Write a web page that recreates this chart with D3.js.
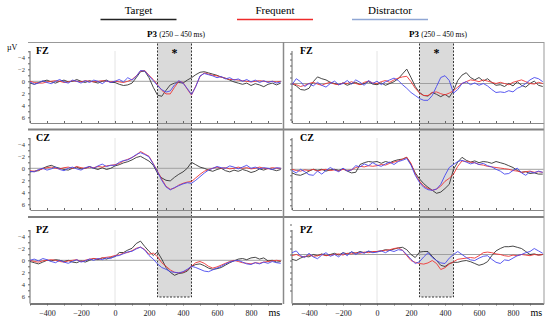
<!DOCTYPE html>
<html>
<head>
<meta charset="utf-8">
<script src="https://cdn.jsdelivr.net/npm/d3@7"></script>
<style>
  body { margin: 0; background: #fff; }
  svg { display: block; }
  text { font-family: "Liberation Serif", "DejaVu Serif", serif; }
</style>
</head>
<body>
<div id="chart"></div>
<script>
// sampling grid (ms)
const times = [-500,-475,-450,-425,-400,-375,-350,-325,-300,-275,-250,-225,-200,-175,-150,-125,-100,-75,-50,-25,
  0,25,50,75,100,125,150,175,200,225,250,275,300,325,350,375,400,425,450,475,
  500,525,550,575,600,625,650,675,700,725,750,775,800,825,850,875,900,925,950,975];

const seriesNames = ['Target', 'Frequent', 'Distractor'];
const rowNames = ['FZ', 'CZ', 'PZ'];
const xTickLabels = [-400, -200, 0, 200, 400, 600, 800];
const yTickLabels = [-4, -2, 0, 2, 4, 6];
const windowMs = [250, 450];

// left column (µV)
const fzLeftTarget = [0.3,0.5,0.2,0.0,-0.2,0.1,0.3,0.0,-0.2,0.1, 0.0,-0.3,0.0,0.2,-0.1,0.1,0.3,0.0,-0.2,0.2,
  0.2,0.5,0.7,0.6,0.3,-0.6,-1.6,-1.7,-0.6,1.0, 2.3,2.5,1.5,0.6,0.3,0.2,0.3,-0.2,-0.6,-1.1,
  -1.5,-1.6,-1.4,-1.2,-1.0,-0.7,-0.5,-0.2,0.1,0.3, 0.5,0.3,0.7,0.4,0.6,0.9,0.5,0.3,0.6,0.3];
const fzLeftFrequent = [0.0,0.2,0.3,0.3,0.1,0.0,-0.1,0.0,0.2,0.1, -0.1,0.0,0.1,-0.1,0.0,0.1,0.0,-0.1,0.0,0.1,
  0.0,0.1,0.2,0.0,-0.3,-0.9,-1.7,-1.8,-1.0,-0.3, 0.6,1.5,2.1,2.1,1.0,0.0,0.2,1.3,2.3,0.8,
  -0.8,-1.4,-1.2,-1.0,-0.9,-0.7,-0.5,-0.3,-0.3,-0.2, -0.1,0.0,0.1,0.0,-0.1,0.0,0.1,0.0,0.1,0.0];
const fzLeftDistractor = [0.1,0.5,0.3,-0.1,0.2,0.4,0.0,-0.3,0.1,0.3, -0.2,0.0,0.3,-0.1,0.2,-0.2,0.0,0.4,-0.1,0.2,
  0.0,-0.3,0.1,-0.6,-0.2,-0.8,-1.8,-1.7,-0.9,-0.1, 0.7,1.4,1.8,1.6,0.6,-0.1,0.3,1.2,2.2,0.9,
  -0.9,-1.3,-1.1,-0.9,-0.6,-0.8,-0.4,-0.6,-0.2,-0.4, 0.0,-0.3,0.1,-0.2,0.2,-0.1,0.2,0.0,0.3,0.1];

const czLeftTarget = [0.6,0.5,0.4,0.0,-0.3,-0.5,-0.2,0.0,0.2,0.3, 0.0,-0.2,0.1,0.0,-0.3,0.0,0.2,-0.1,0.2,0.0,
  -0.4,-0.6,-0.9,-1.1,-1.4,-1.8,-2.0,-1.6,-1.2,-0.5, 0.8,1.6,2.0,2.1,1.5,1.0,0.6,0.0,-1.0,-0.6,
  -0.2,0.0,0.3,0.5,0.2,0.0,0.4,0.6,0.3,0.5, 0.2,0.4,0.7,0.5,0.1,0.3,0.0,0.2,0.4,0.2];
const czLeftFrequent = [0.4,0.5,0.3,0.1,-0.1,-0.2,0.0,0.1,-0.1,-0.2, 0.0,-0.3,-0.1,0.0,-0.2,-0.1,-0.3,-0.2,-0.4,-0.5,
  -0.6,-0.8,-1.2,-1.5,-1.8,-2.2,-2.8,-2.4,-2.0,-0.8, 0.5,1.8,3.0,3.5,3.3,2.8,2.5,2.3,2.2,1.6,
  1.0,0.5,0.2,0.0,-0.2,0.0,-0.1,0.1,0.0,-0.2, 0.0,-0.1,0.1,0.0,-0.2,0.0,0.1,-0.1,0.0,0.0];
const czLeftDistractor = [0.5,0.6,0.2,0.0,0.3,0.1,-0.2,0.2,0.4,0.0, -0.2,0.1,0.3,-0.1,-0.3,0.0,-0.4,-0.7,-0.3,-0.5,
  -0.5,-1.0,-1.3,-1.4,-1.8,-2.3,-2.6,-2.3,-1.9,-0.7, 0.6,2.0,3.1,3.6,3.2,2.9,2.6,2.4,2.5,2.0,
  1.4,0.8,0.3,0.0,-0.3,-0.1,0.0,-0.4,-0.2,0.1, -0.2,-0.5,0.0,-0.2,0.1,-0.1,0.0,0.2,-0.1,0.0];

const pzLeftTarget = [0.2,0.4,0.6,0.3,0.0,0.1,-0.1,0.0,0.2,0.0, 0.3,0.4,0.1,0.3,0.0,-0.3,-0.1,-0.4,-0.2,-0.5,
  -0.6,-1.3,-1.3,-1.7,-2.0,-2.8,-3.2,-2.3,-1.5,-0.8, -1.4,-0.2,1.2,2.0,2.5,2.2,2.1,1.8,1.0,0.7,
  0.6,0.9,1.3,1.5,1.4,1.2,0.8,0.4,0.1,-0.2, -0.3,-0.1,-0.4,-0.5,-0.2,-0.4,0.1,0.0,0.3,0.2];
const pzLeftFrequent = [0.0,0.2,0.3,0.1,0.0,-0.1,0.0,0.2,0.3,0.1, 0.0,-0.1,0.2,0.0,-0.2,-0.3,-0.2,-0.4,-0.5,-0.6,
  -0.8,-0.9,-1.2,-1.3,-1.6,-2.0,-2.2,-1.8,-1.0,-1.2, -0.6,0.4,1.0,1.6,2.0,2.1,2.0,1.6,1.0,0.4,
  0.2,0.5,1.0,1.3,1.1,0.8,0.5,0.2,0.0,0.2, 0.4,0.5,0.6,0.4,0.5,0.3,0.2,0.1,0.0,0.1];
const pzLeftDistractor = [0.0,-0.2,0.1,-0.3,-0.1,0.2,0.4,0.0,0.3,0.5, 0.2,-0.1,0.3,0.1,-0.2,0.0,-0.3,-0.1,-0.4,-0.3,
  -0.7,-0.8,-1.1,-1.4,-1.5,-1.9,-2.2,-1.7,-0.8,-0.2, 0.6,1.2,1.5,1.9,2.0,2.1,1.9,1.5,1.0,1.2,
  1.5,1.8,1.9,1.6,1.3,1.0,0.6,0.3,0.1,0.0, 0.3,0.6,0.7,0.4,0.6,0.3,0.5,0.2,0.4,0.5];

// right column (µV)
const fzRightTarget = [0.0,0.4,1.0,1.1,0.8,-0.3,-1.1,-0.8,-0.6,-0.2, 0.0,0.2,-0.1,0.3,0.0,-0.2,0.2,0.0,-0.3,0.1,
  0.2,-0.1,0.3,0.0,-0.3,-0.8,-1.6,-2.4,-1.0,0.5, 1.5,2.0,2.1,1.5,1.8,2.2,1.8,2.3,1.2,-0.5,
  -1.4,-1.8,-1.0,-0.6,-1.0,-0.4,-0.8,-0.2,0.3,0.2, 0.5,0.0,0.4,-0.3,0.3,0.6,0.0,-0.4,0.3,0.5];
const fzRightFrequent = [0.0,0.2,0.5,0.3,0.0,-0.2,0.1,0.3,0.0,-0.2, 0.1,0.2,-0.1,0.0,-0.3,0.0,0.2,-0.2,-0.4,-0.1,
  0.0,-0.3,-0.5,-0.2,-0.6,-0.9,-1.1,-1.2,-0.3,0.8, 1.6,2.0,2.0,1.5,1.4,1.7,1.9,1.6,1.2,0.6,
  0.0,-0.3,-0.6,-0.5,-0.3,-0.6,-0.4,-0.2,0.0,-0.2, 0.0,0.2,-0.2,-0.4,-0.6,-0.3,0.0,0.1,-0.2,0.0];
const fzRightDistractor = [0.2,-0.8,-0.3,0.5,0.0,0.4,-0.2,0.3,0.6,0.0, -0.4,0.2,0.0,-0.5,0.1,-0.6,-0.2,0.3,-0.5,0.0,
  -0.4,0.2,-0.3,-0.6,-0.9,-0.5,0.2,0.8,1.5,2.0, 2.5,2.8,2.8,2.0,0.5,-1.0,-1.3,-0.5,1.6,1.0,
  0.0,-0.3,0.2,-0.1,0.3,0.0,0.4,1.0,1.5,1.4, 1.5,1.2,1.4,0.8,0.5,0.0,-0.6,-1.0,-0.8,-0.3];

const czRightTarget = [0.6,0.9,1.0,0.7,0.3,0.0,0.2,0.0,0.3,0.1, 0.0,0.2,-0.1,0.3,0.6,0.5,-0.8,-1.1,-1.3,-1.2,
  -1.3,-1.0,-1.3,-1.1,-1.4,-1.6,-1.7,-2.0,-0.8,0.6, 1.6,2.4,3.0,3.5,4.0,3.8,3.2,2.5,0.0,-1.2,
  -2.0,-1.5,-1.2,-1.4,-1.1,-1.3,-1.2,-1.0,-1.3,-1.1, -0.9,-0.6,-0.3,0.2,0.5,0.4,0.7,0.6,0.8,0.8];
const czRightFrequent = [0.0,0.2,0.3,0.1,0.2,0.0,0.3,0.1,0.0,0.2, 0.1,0.3,0.0,0.2,0.1,-0.3,-0.5,-0.4,-0.6,-0.5,
  -0.6,-0.8,-0.7,-1.0,-1.2,-1.4,-1.7,-2.0,-1.0,0.8, 2.0,2.8,3.2,3.5,3.3,2.8,2.0,1.5,0.8,-0.5,
  -1.4,-1.3,-1.2,-1.1,-0.8,-0.7,-0.5,-0.4,-0.3,-0.2, -0.1,0.0,0.2,0.3,0.5,0.4,0.3,0.5,0.4,0.5];
const czRightDistractor = [0.2,0.6,0.0,0.4,0.9,1.0,0.3,0.8,0.2,-0.3, 0.1,0.4,-0.2,0.3,0.1,-0.6,-0.4,-0.9,-0.6,-1.1,
  -0.7,-0.5,-0.9,-1.2,-0.8,-1.3,-1.5,-1.8,-0.7,1.0, 2.2,3.0,3.4,3.5,3.3,2.5,1.0,-0.3,-0.8,-1.3,
  -1.5,-1.2,-0.9,-1.1,-0.8,-1.0,-0.6,-0.4,0.0,0.3, 0.8,0.7,0.2,-0.2,0.6,1.0,0.4,0.6,0.3,0.5];

const pzRightTarget = [0.8,1.0,0.6,0.3,0.4,0.0,0.2,-0.1,0.2,0.0, -0.2,0.1,-0.3,-0.1,-0.4,-0.2,-0.5,-0.3,-0.5,-0.4,
  -0.5,-0.6,-0.8,-0.7,-0.9,-1.1,-1.2,-0.8,0.0,0.5, -0.4,-0.5,-0.5,0.3,1.0,1.8,2.0,1.5,1.3,1.3,
  1.1,1.0,1.2,1.5,1.8,1.6,1.2,0.2,-0.6,-1.0, -1.3,-1.3,-1.4,-1.2,-1.0,-0.5,0.0,-0.1,0.1,0.0];
const pzRightFrequent = [0.2,0.0,0.3,0.4,0.1,0.3,0.2,0.0,0.2,0.1, 0.0,-0.1,0.1,-0.2,-0.1,-0.3,-0.2,-0.4,-0.3,-0.5,
  -0.5,-0.6,-0.7,-0.8,-1.0,-1.1,-0.7,0.2,1.0,1.3, 1.5,1.6,1.4,1.0,1.5,2.5,2.2,1.6,1.2,0.8,
  0.7,0.6,0.5,0.6,0.2,-0.3,-0.4,-0.3,-0.1,0.0, 0.2,0.3,0.1,0.2,0.0,0.1,0.2,0.0,0.1,0.0];
const pzRightDistractor = [-0.3,-0.6,0.2,0.5,-0.2,0.4,0.7,0.1,-0.3,0.3, 0.0,0.4,-0.3,0.2,-0.5,0.0,-0.4,-0.2,-0.6,-0.3,
  -0.4,-0.6,-0.3,-0.7,-0.5,-0.8,-0.7,0.0,0.8,1.5, 1.2,0.4,-0.3,0.5,1.0,1.4,1.5,0.6,0.0,-0.5,
  0.0,0.5,0.9,1.0,0.6,0.3,0.2,0.8,1.3,1.5, 0.9,1.0,0.6,0.2,0.0,-0.3,-0.5,-1.0,-0.6,-0.2];

const panelData = [
  [[fzLeftTarget, fzLeftFrequent, fzLeftDistractor], [fzRightTarget, fzRightFrequent, fzRightDistractor]],
  [[czLeftTarget, czLeftFrequent, czLeftDistractor], [czRightTarget, czRightFrequent, czRightDistractor]],
  [[pzLeftTarget, pzLeftFrequent, pzLeftDistractor], [pzRightTarget, pzRightFrequent, pzRightDistractor]]
];

// layout
const W = 550, H = 322;
const colors = ['#333333', '#ee3535', '#4848ee'];
const legendColors = ['#222222', '#ee2a2a', '#8fa6d4'];
const cols = [{ x0: 30, x1: 281.6 }, { x0: 292, x1: 543.6 }];
const rows = [
  { top: 51, bottom: 123, zero: [81.3, 83.5] },
  { top: 138, bottom: 210, zero: [168.3, 169.3] },
  { top: 230, bottom: 303.5, zero: [260.3, 254.5] }
];
const pxPerUv = 6;

const svg = d3.select('#chart').append('svg')
  .attr('width', W).attr('height', H);

// legend
const legendX = [138.5, 275, 390];
seriesNames.forEach((s, i) => {
  svg.append('text').attr('x', legendX[i]).attr('y', 14)
    .attr('text-anchor', 'middle').attr('font-size', '11px').text(s);
  svg.append('line')
    .attr('x1', legendX[i] - 38).attr('x2', legendX[i] + 38)
    .attr('y1', 19.5).attr('y2', 19.5)
    .attr('stroke', legendColors[i]).attr('stroke-width', 1.6);
});

svg.append('text').attr('x', 7).attr('y', 50).attr('font-size', '8px').text('µV');

cols.forEach((c, ci) => {
  const x = d3.scaleLinear().domain([-500, 980]).range([c.x0, c.x1]);

  // shaded P3 window
  svg.append('rect')
    .attr('x', x(windowMs[0])).attr('y', 42.5)
    .attr('width', x(windowMs[1]) - x(windowMs[0])).attr('height', 297 - 42.5)
    .attr('fill', '#dadada').attr('stroke', '#222')
    .attr('stroke-width', 0.9).attr('stroke-dasharray', '2,1.5');

  const title = svg.append('text')
    .attr('x', x(windowMs[0]) - 10.5).attr('y', 37).attr('font-size', '9px');
  title.append('tspan').attr('font-weight', 'bold').text('P3 ');
  title.append('tspan').attr('font-size', '7.5px').text('(250 – 450 ms)');

  svg.append('text')
    .attr('x', x((windowMs[0] + windowMs[1]) / 2)).attr('y', 57)
    .attr('text-anchor', 'middle').attr('font-size', '12px').attr('font-weight', 'bold')
    .text('*');

  rows.forEach((r, ri) => {
    const y = d3.scaleLinear().domain([0, 1]).range([r.zero[ci], r.zero[ci] + pxPerUv]);

    // stimulus onset
    svg.append('line')
      .attr('x1', x(0)).attr('x2', x(0)).attr('y1', r.top).attr('y2', r.bottom)
      .attr('stroke', '#e4e4e4').attr('stroke-width', 1);

    // zero line
    svg.append('line')
      .attr('x1', c.x0).attr('x2', c.x1).attr('y1', y(0)).attr('y2', y(0))
      .attr('stroke', '#a0a0a0').attr('stroke-width', 1);

    // y axis
    const yAxis = svg.append('g').attr('transform', `translate(${c.x0},0)`)
      .call(d3.axisLeft(y).tickValues(d3.range(-5, 7)).tickSize(2)
        .tickFormat(v => (ci === 0 && yTickLabels.includes(v)) ? d3.format('')(v) : ''));
    yAxis.select('.domain').remove();
    yAxis.selectAll('line').attr('stroke', '#666');
    yAxis.selectAll('text').attr('font-size', '6.5px').attr('fill', '#333')
      .style('font-family', '"Liberation Serif", serif').attr('x', -5);
    svg.append('line')
      .attr('x1', c.x0).attr('x2', c.x0).attr('y1', r.top).attr('y2', r.bottom)
      .attr('stroke', '#666').attr('stroke-width', 1);

    // x axis
    const last = ri === rows.length - 1;
    const xAxis = svg.append('g').attr('transform', `translate(0,${r.bottom})`)
      .call(d3.axisBottom(x).tickValues(d3.range(-500, 1000, 100))
        .tickSizeInner(last ? 2 : -2).tickSizeOuter(0)
        .tickFormat(v => (last && xTickLabels.includes(v)) ? d3.format('')(v) : ''));
    xAxis.select('.domain').attr('stroke', last ? '#777' : '#888')
      .attr('stroke-width', last ? 2 : 1);
    xAxis.selectAll('.tick line').attr('stroke', '#666');
    xAxis.selectAll('text').attr('font-size', '8px').attr('fill', '#222')
      .style('font-family', '"Liberation Serif", serif').attr('dy', '0.9em');

    // channel label
    svg.append('text').attr('x', c.x0 + 6 + ci * 2).attr('y', r.top + 3)
      .attr('font-size', '10px').attr('font-weight', 'bold').text(rowNames[ri]);

    // waveforms
    const line = d3.line().x((d, i) => x(times[i])).y(d => y(d));
    panelData[ri][ci].forEach((vals, si) => {
      svg.append('path').datum(vals)
        .attr('d', line).attr('fill', 'none')
        .attr('stroke', colors[si]).attr('stroke-width', 0.9)
        .attr('stroke-linejoin', 'round');
    });
  });

  svg.append('text').attr('x', c.x1 - 13).attr('y', 316).attr('font-size', '10px').text('ms');
});

// frame lines
svg.append('line').attr('x1', 28).attr('x2', 544).attr('y1', 42.5).attr('y2', 42.5)
  .attr('stroke', '#999').attr('stroke-width', 1);
[129.5, 217].forEach(yy => {
  svg.append('line').attr('x1', 28).attr('x2', 544).attr('y1', yy).attr('y2', yy)
    .attr('stroke', '#808080').attr('stroke-width', 2);
});
svg.append('line').attr('x1', 283.5).attr('x2', 283.5).attr('y1', 42).attr('y2', 304)
  .attr('stroke', '#8a8a8a').attr('stroke-width', 1.5);
svg.append('line').attr('x1', 544).attr('x2', 544).attr('y1', 42).attr('y2', 304)
  .attr('stroke', '#999').attr('stroke-width', 1);
</script>
</body>
</html>
